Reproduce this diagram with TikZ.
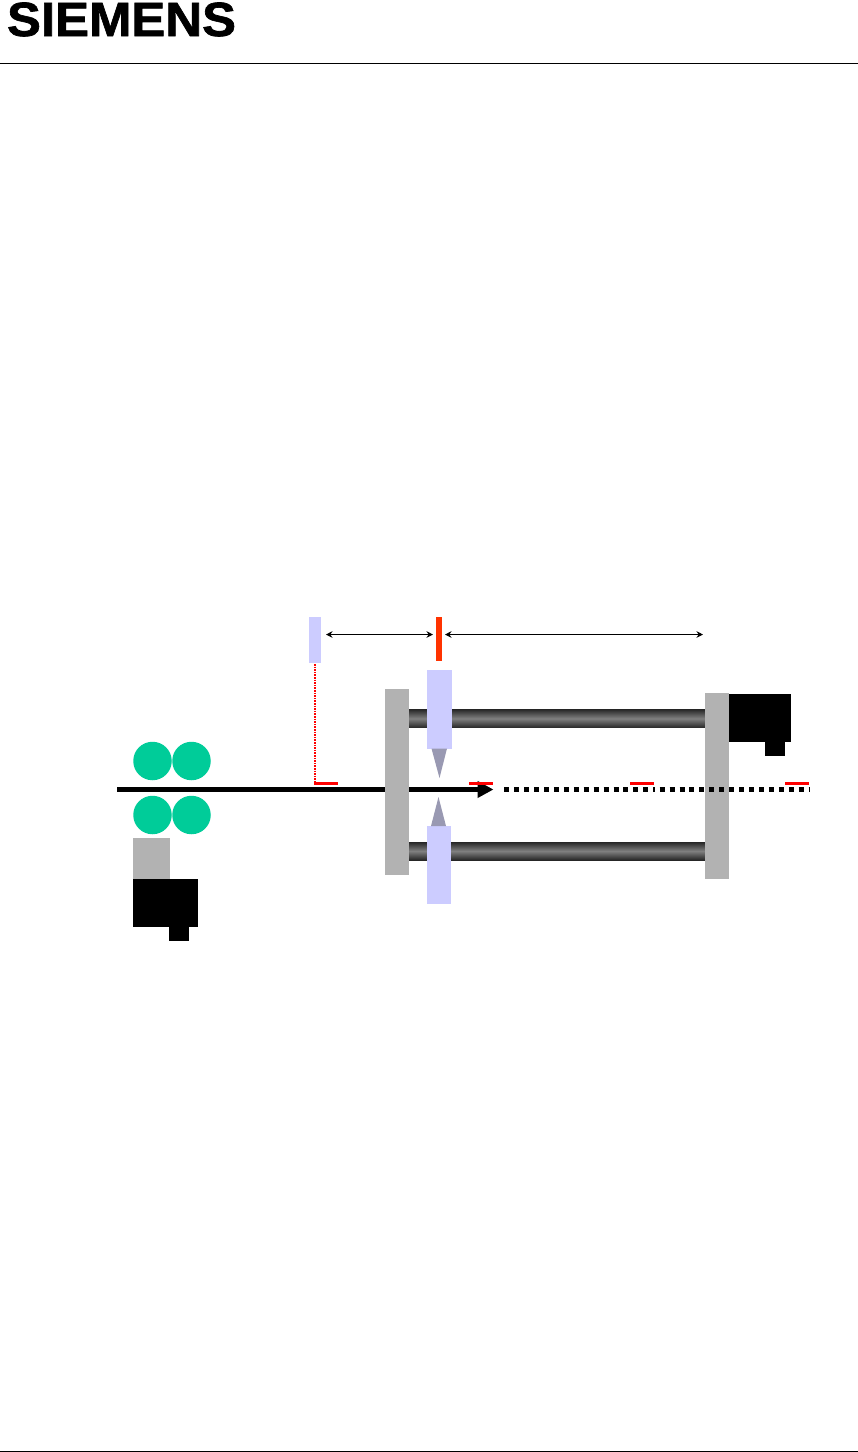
\documentclass[tikz,border=0pt]{standalone}
\usepackage{fontspec}
\usepackage{xcolor}
\usetikzlibrary{arrows.meta, positioning, calc}
\newfontfamily\logofont[FakeStretch=1.06, FakeBold=1.4]{Liberation Sans Bold}
\definecolor{platecol}{HTML}{B2B2B2}
\definecolor{carrcol}{HTML}{CCCCFF}
\definecolor{rollcol}{HTML}{00CC99}
\definecolor{tipcol}{HTML}{9999B2}
\definecolor{markcol}{HTML}{FF3300}
\begin{document}
\begin{tikzpicture}[x=1pt, y=-1pt, >=stealth,
    part/.style={inner sep=0pt, outer sep=0pt, minimum width=#1},
    plate/.style={part=24, minimum height=186, fill=platecol},
    carriage/.style={part=24.5, fill=carrcol},
    rod/.style={part=296, minimum height=18.5, top color=black!85, bottom color=black!85, middle color=black!50},
    motor/.style={part=#1, fill=black},
    roller/.style={circle, inner sep=0pt, minimum size=38.5, fill=rollcol},
    ruleline/.style={line width=1.2pt},
    dimline/.style={{Stealth[length=6.5pt, width=6.5pt]}-{Stealth[length=6.5pt, width=6.5pt]}, line width=1.3pt},
    refline/.style={red, line width=2.4pt},
    feed/.style={line width=5pt},
    nextpiece/.style={line width=5pt, dash pattern=on 5pt off 4.93pt}]
  \useasboundingbox (0,0) rectangle (858,1452);

  % page furniture
  \node[anchor=base west, inner sep=0pt, font=\logofont\fontsize{48}{48}\selectfont] (logo) at (6.8,36) {SIEMENS};
  \coordinate (headl) at (0,63.5);
  \coordinate (headr) at (858,63.5);
  \coordinate (footl) at (0,1451.2);
  \coordinate (footr) at (858,1451.2);
  \draw[ruleline] (headl) -- (headr);
  \draw[ruleline] (footl) -- (footr);

  % feed rollers and drive
  \node[roller] (rollul) at (152.5,761) {};
  \node[roller] (rollur) at (191.5,761) {};
  \node[roller] (rollll) at (152.5,815) {};
  \node[roller] (rolllr) at (191.5,815) {};
  \node[part=37, minimum height=41, fill=platecol] (gear) at (151.5,858.5) {};
  \node[motor=65, minimum height=48] (drive) at (165.5,903) {};
  \node[motor=20, minimum height=14] (drivestub) at (179,934) {};

  % material
  \coordinate (feedstart) at (117,789.5);
  \coordinate (feedend) at (493.5,789.5);
  \draw[feed, -{Triangle[length=16pt, width=16pt]}] (feedstart) -- (feedend);

  % rods, plates, knife
  \node[rod] (rodup) at (557,718.5) {};
  \node[rod, minimum height=18] (rodlow) at (557,851) {};
  \node[plate] (plateleft) at (397,782) {};
  \node[plate] (plateright) at (717,786) {};
  \node[carriage, minimum height=79] (knifeup) at (439.5,709.5) {};
  \node[carriage, minimum height=78] (knifelow) at (439,865) {};
  \coordinate (tipup) at (439.5,778);
  \coordinate (tiplow) at (438.5,797);
  \fill[tipcol] (431.5,748.5) -- (tipup) -- (447,748.5) -- cycle;
  \fill[tipcol] (431,826) -- (tiplow) -- (446,826) -- cycle;

  % flying saw drive
  \node[motor=62, minimum height=48] (flydrive) at (760,718) {};
  \node[motor=20, minimum height=14] (flystub) at (775,749) {};

  % length marks
  \node[part=12, minimum height=46, fill=carrcol] (sensor) at (315,640) {};
  \node[part=6, minimum height=44, fill=markcol] (cutmark) at (439,639) {};
  \coordinate (dimend) at (703,634.5);
  \draw[dimline] ($(sensor.east)+(5,-5.5)$) -- ($(cutmark.west)+(-3,-4.5)$);
  \draw[dimline] ($(cutmark.east)+(3,-4.5)$) -- (dimend);

  \coordinate (reftop) at (315,664);
  \coordinate (refcorner) at (315,783.5);
  \coordinate (refend) at (338,783.5);
  \draw[red, line width=1.6pt, dash pattern=on 1.6pt off 1pt] (reftop) -- (refcorner);
  \draw[refline] (314,783.5) -- (refend);
  \coordinate (marka) at (469,783.5);
  \coordinate (markb) at (493,783.5);
  \coordinate (markc) at (630,783.5);
  \coordinate (markd) at (654,783.5);
  \coordinate (marke) at (785,783.5);
  \coordinate (markf) at (809,783.5);
  \draw[refline] (marka) -- (markb);
  \draw[refline] (markc) -- (markd);
  \draw[refline] (marke) -- (markf);

  % material still to come
  \coordinate (nexta) at (504.3,789.5);
  \coordinate (nextb) at (654.5,789.5);
  \coordinate (nextc) at (659.7,789.5);
  \coordinate (nextd) at (809.5,789.5);
  \draw[nextpiece] (nexta) -- (nextb);
  \draw[nextpiece] (nextc) -- (nextd);
\end{tikzpicture}
\end{document}
